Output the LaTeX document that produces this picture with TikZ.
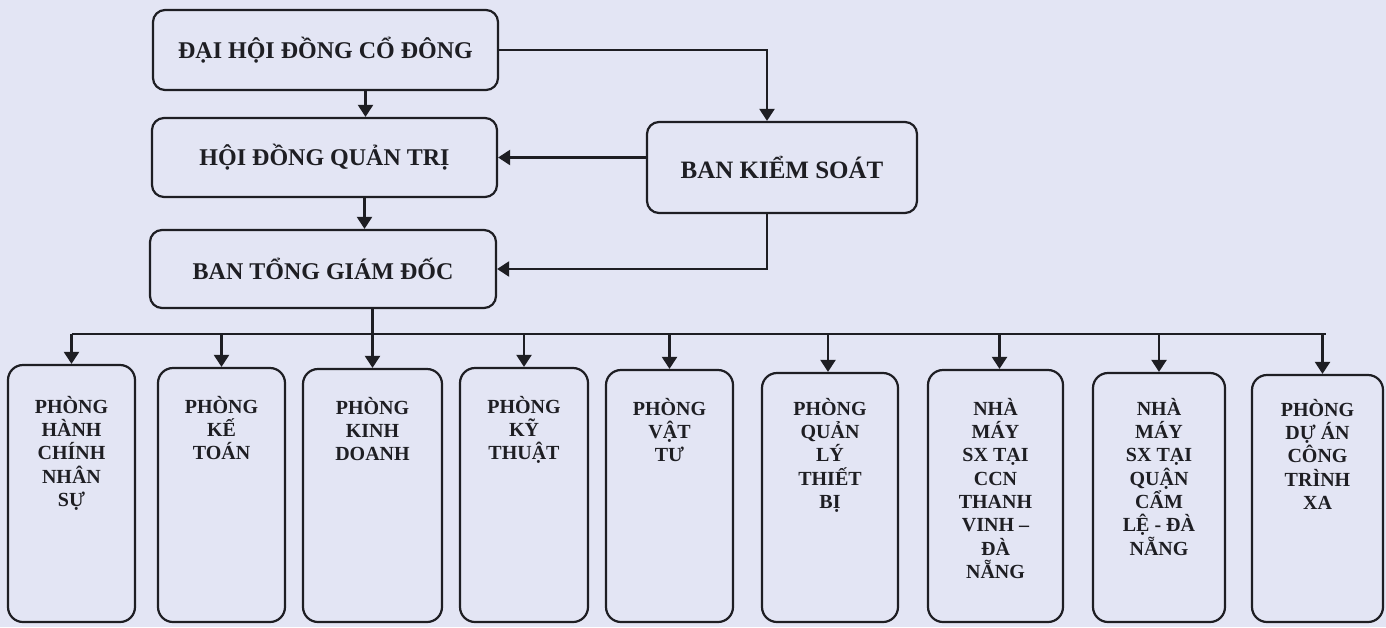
\documentclass[tikz,border=0pt]{standalone}
\usepackage{fontspec}
\setmainfont{Liberation Serif}
\usetikzlibrary{arrows.meta}
\definecolor{bg}{RGB}{227,229,244}
\definecolor{ink}{RGB}{30,30,35}
\begin{document}
\begin{tikzpicture}[x=1pt,y=-1pt,
  box/.style={draw=ink, line width=2.2pt, rounded corners=12pt, inner sep=0pt},
  topbox/.style={box, font=\fontsize{24}{28}\selectfont\bfseries, text=ink},
  unit/.style={box, rounded corners=15pt},
  lbl/.style={anchor=north, inner sep=0pt, align=center, font=\fontsize{20}{23.3}\selectfont\bfseries, text=ink},
  arr/.style={draw=ink, line width=2.2pt, -{Triangle[length=12pt,width=15pt]}},
  conn/.style={draw=ink, line width=2.2pt}]
\fill[bg] (0,0) rectangle (1386,627);
\useasboundingbox (0,0) rectangle (1386,627);

% top level
\node[topbox, minimum width=345pt, minimum height=80pt] (dhd) at (325.5,50) {ĐẠI HỘI ĐỒNG CỔ ĐÔNG};
\node[topbox, minimum width=345pt, minimum height=79pt] (hdqt) at (324.5,157.5) {HỘI ĐỒNG QUẢN TRỊ};
\node[topbox, minimum width=346pt, minimum height=78pt] (btgd) at (323,269) {BAN TỔNG GIÁM ĐỐC};
\node[topbox, minimum width=270pt, minimum height=91pt, font=\fontsize{25}{29}\selectfont\bfseries] (bks) at (782,167.5) {BAN KIỂM SOÁT};

% units
\node[unit, minimum width=127pt, minimum height=257pt] (b1) at (71.5,493.5) {};
\node[unit, minimum width=127pt, minimum height=254pt] (b2) at (221.5,495) {};
\node[unit, minimum width=139pt, minimum height=253pt] (b3) at (372.5,495.5) {};
\node[unit, minimum width=128pt, minimum height=254pt] (b4) at (524,495) {};
\node[unit, minimum width=127pt, minimum height=252pt] (b5) at (669.5,496) {};
\node[unit, minimum width=136pt, minimum height=249pt] (b6) at (830,497.5) {};
\node[unit, minimum width=135pt, minimum height=252pt] (b7) at (995.5,496) {};
\node[unit, minimum width=132pt, minimum height=249pt] (b8) at (1159,497.5) {};
\node[unit, minimum width=131pt, minimum height=247pt] (b9) at (1317.5,498.5) {};

\node[lbl] (t1) at (71.5,396) {PHÒNG\\HÀNH\\CHÍNH\\NHÂN\\SỰ};
\node[lbl] (t2) at (221.5,396) {PHÒNG\\KẾ\\TOÁN};
\node[lbl] (t3) at (372.5,397) {PHÒNG\\KINH\\DOANH};
\node[lbl] (t4) at (524,396) {PHÒNG\\KỸ\\THUẬT};
\node[lbl] (t5) at (669.5,398) {PHÒNG\\VẬT\\TƯ};
\node[lbl] (t6) at (830,398) {PHÒNG\\QUẢN\\LÝ\\THIẾT\\BỊ};
\node[lbl] (t7) at (995.5,398) {NHÀ\\MÁY\\SX TẠI\\CCN\\THANH\\VINH –\\ĐÀ\\NẴNG};
\node[lbl] (t8) at (1159,398) {NHÀ\\MÁY\\SX TẠI\\QUẬN\\CẨM\\LỆ - ĐÀ\\NẴNG};
\node[lbl] (t9) at (1317.5,399) {PHÒNG\\DỰ ÁN\\CÔNG\\TRÌNH\\XA};

% connectors (top)
\draw[arr] ([xshift=40pt]dhd.south) -- ([xshift=40pt]dhd.south |- hdqt.north);
\draw[arr] ([xshift=40pt]hdqt.south) -- ([xshift=40pt]hdqt.south |- btgd.north);
\draw[arr] (dhd.east) -| ([xshift=-15pt]bks.north);
\draw[arr] (bks.west |- hdqt.east) -- (hdqt.east);
\draw[arr] ([xshift=-15pt]bks.south) |- (btgd.east);

% bus
\coordinate (bus) at (373,334);
\draw[conn] (b1.north |- bus) -- ([xshift=8pt]b9.north |- bus);
\draw[arr] (btgd.south -| b3.north) -- (b3.north);
\draw[arr] (b1.north |- bus) -- (b1.north);
\draw[arr] (b2.north |- bus) -- (b2.north);
\draw[arr] (b4.north |- bus) -- (b4.north);
\draw[arr] (b5.north |- bus) -- (b5.north);
\draw[arr] ([xshift=-2pt]b6.north |- bus) -- ([xshift=-2pt]b6.north);
\draw[arr] ([xshift=4pt]b7.north |- bus) -- ([xshift=4pt]b7.north);
\draw[arr] (b8.north |- bus) -- (b8.north);
\draw[arr] ([xshift=5pt]b9.north |- bus) -- ([xshift=5pt]b9.north);
\end{tikzpicture}
\end{document}
